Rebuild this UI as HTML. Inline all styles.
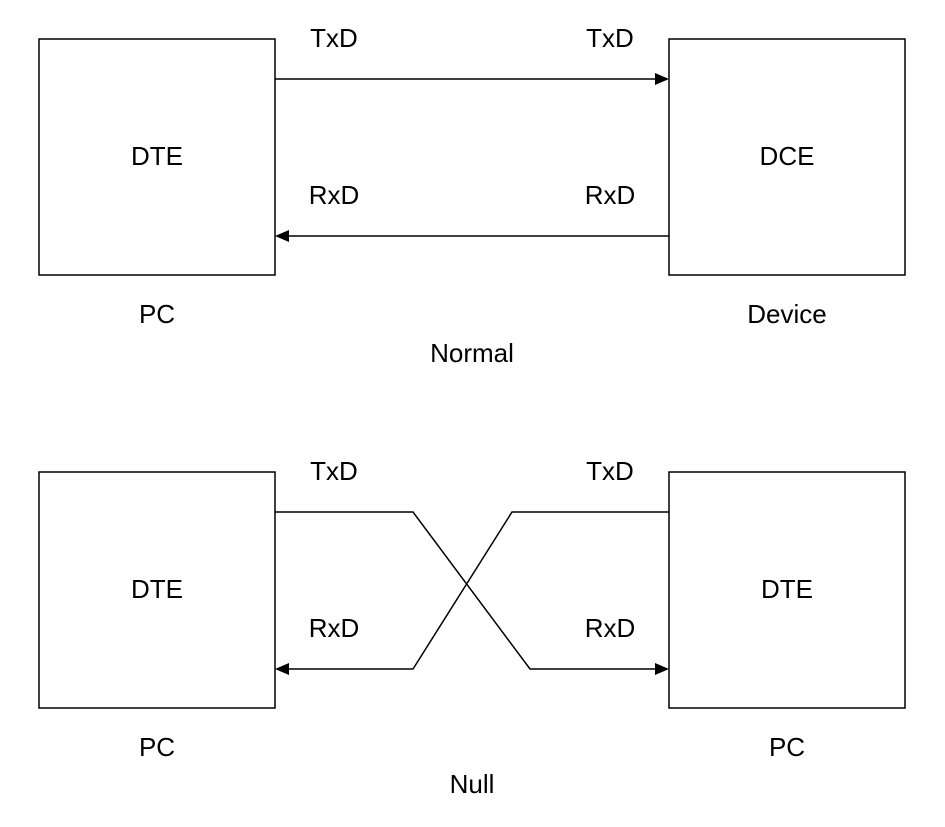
<!DOCTYPE html>
<html><head><meta charset="utf-8"><style>
html,body{margin:0;padding:0;background:#fff;}
svg{display:block;}
text{font-family:"Liberation Sans",Arial,sans-serif;font-size:26px;fill:#000;text-anchor:middle;}
</style></head><body>
<svg width="945" height="827" viewBox="0 0 945 827" xmlns="http://www.w3.org/2000/svg">
<g fill="none" stroke="#000" stroke-width="1.5">
<rect x="39" y="39" width="236" height="236"/>
<rect x="669" y="39" width="236" height="236"/>
<rect x="39" y="472" width="236" height="236"/>
<rect x="669" y="472" width="236" height="236"/>
<line x1="275" y1="79" x2="657" y2="79"/>
<line x1="669" y1="236" x2="287" y2="236"/>
<polyline points="275,512 413,512 530,669 657,669"/>
<polyline points="669,512 512,512 413,669 287,669"/>
</g>
<g fill="#000">
<polygon points="669,79 655,73 655,85"/>
<polygon points="275,236 289,230 289,242"/>
<polygon points="669,669 655,663 655,675"/>
<polygon points="275,669 289,663 289,675"/>
</g>
<text x="334" y="47">TxD</text>
<text x="610" y="47">TxD</text>
<text x="334" y="204">RxD</text>
<text x="610" y="204">RxD</text>
<text x="157" y="165">DTE</text>
<text x="787" y="165">DCE</text>
<text x="157" y="323">PC</text>
<text x="787" y="323">Device</text>
<text x="472" y="362">Normal</text>
<text x="334" y="480">TxD</text>
<text x="610" y="480">TxD</text>
<text x="334" y="637">RxD</text>
<text x="610" y="637">RxD</text>
<text x="157" y="598">DTE</text>
<text x="787" y="598">DTE</text>
<text x="157" y="756">PC</text>
<text x="787" y="756">PC</text>
<text x="472" y="793">Null</text>
</svg>
</body></html>
